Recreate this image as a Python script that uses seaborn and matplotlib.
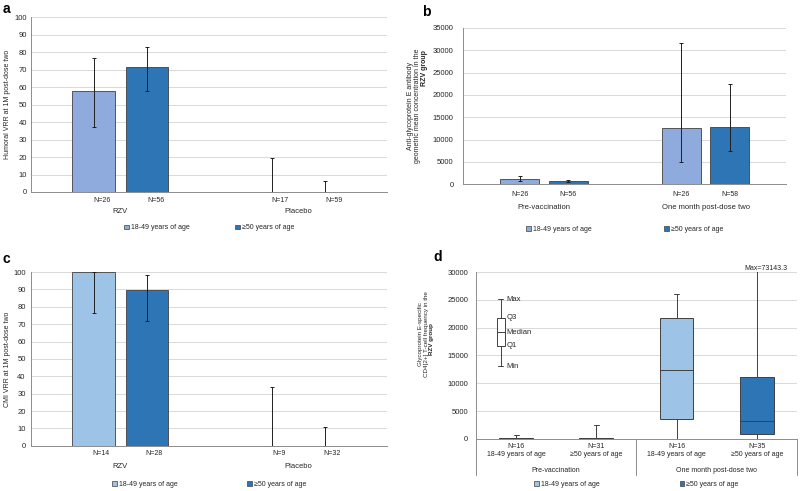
import numpy as np
import pandas as pd
import matplotlib
matplotlib.use('Agg')
import matplotlib.pyplot as plt
from matplotlib.patches import Patch
import seaborn as sns


# ── Data ──────────────────────────────────────────────────────────────────────

age_groups = ['18-49 years of age', '≥50 years of age']

# a: humoral VRR at 1M post-dose two (%)
a_groups   = ['RZV', 'Placebo']
a_young    = [57.7, 0.0]
a_young_lo = [36.9, 0.0]
a_young_hi = [76.9, 19.7]
a_young_n  = [26, 17]
a_old      = [71.3, 0.0]
a_old_lo   = [57.9, 0.0]
a_old_hi   = [82.8, 6.1]
a_old_n    = [56, 59]

# b: anti-gE antibody GMC, RZV group
b_groups   = ['Pre-vaccination', 'One month post-dose two']
b_young    = [1050, 12585]
b_young_lo = [600, 4915]
b_young_hi = [1870, 31650]
b_young_n  = [26, 26]
b_old      = [670, 12880]
b_old_lo   = [470, 7370]
b_old_hi   = [960, 22415]
b_old_n    = [56, 58]

# c: CMI VRR at 1M post-dose two (%)
c_groups   = ['RZV', 'Placebo']
c_young    = [100.0, 0.0]
c_young_lo = [76.5, 0.0]
c_young_hi = [100.0, 33.6]
c_young_n  = [14, 9]
c_old      = [89.5, 0.0]
c_old_lo   = [71.9, 0.0]
c_old_hi   = [98.1, 10.7]
c_old_n    = [28, 32]

# d: gE-specific CD4[2+] T-cell frequency, five-number summaries
d_time = ['Pre-vaccination', 'Pre-vaccination',
          'One month post-dose two', 'One month post-dose two']
d_age  = [age_groups[0], age_groups[1], age_groups[0], age_groups[1]]
d_n    = [16, 31, 16, 35]
d_min  = [0, 0, 0, 0]
d_q1   = [60, 60, 3590, 960]
d_med  = [120, 120, 12400, 3230]
d_q3   = [250, 250, 21790, 11080]
d_max  = [720, 2460, 26100, 73143.3]

# d: key box
key_names  = ['Max', 'Q3', 'Median', 'Q1', 'Min']
key_values = [25150, 21800, 19170, 16760, 13100]

light_ab = '#8FAADC'
light_cd = '#9DC3E6'
dark     = '#2E75B6'
edge     = '#404040'
spine_c  = '#8C8C8C'
grid_c   = '#D9D9D9'
text_c   = '#262626'
FS = 5


# ── Style ─────────────────────────────────────────────────────────────────────

sns.set_style('white')
plt.rcParams['font.family'] = ['Liberation Sans', 'DejaVu Sans']
plt.rcParams['text.color'] = text_c
plt.rcParams['axes.labelcolor'] = text_c


def style_axes(ax, ymax, ystep, ypad):
    ax.set_ylim(0, ymax)
    ax.set_yticks(np.arange(0, ymax + 1, ystep))
    ax.yaxis.grid(True, color=grid_c, lw=0.7)
    ax.xaxis.grid(False)
    ax.set_axisbelow(True)
    for s in ['top', 'right']:
        ax.spines[s].set_visible(False)
    for s in ['left', 'bottom']:
        ax.spines[s].set_color(spine_c)
        ax.spines[s].set_linewidth(0.7)
    ax.tick_params(axis='y', labelsize=FS + 0.5, length=2, width=0.6,
                   color=spine_c, pad=ypad, labelcolor=text_c)
    ax.set_xlabel('')


def add_legend(ax, colors, y, spacing):
    handles = [Patch(facecolor=c, edgecolor=edge, lw=0.5) for c in colors]
    ax.legend(handles, age_groups, loc='center', bbox_to_anchor=(0.5, y),
              ncol=2, frameon=False, fontsize=FS, handlelength=0.7,
              handleheight=0.7, handletextpad=0.3, columnspacing=spacing)


def rotated_lines(ax, lines, xs, y, bold_x, bold_top, size=FS):
    for line, x in zip(lines, xs):
        ax.text(x, y, line, transform=ax.transAxes, rotation=90,
                ha='center', va='center', fontsize=size)
    ax.text(bold_x, bold_top, 'RZV group', transform=ax.transAxes, rotation=90,
            ha='center', va='top', fontsize=size, weight='bold')


def bar_panel(ax, groups, young, young_lo, young_hi, young_n,
              old, old_lo, old_hi, old_n, colors, ymax, ystep, ypad,
              n_y, cat_y, leg_y, leg_space, n_shift=0.0):
    k = len(groups)
    df = pd.DataFrame({
        'group': groups * 2,
        'age':   [age_groups[0]] * k + [age_groups[1]] * k,
        'value': young + old,
        'lo':    young_lo + old_lo,
        'hi':    young_hi + old_hi,
        'n':     young_n + old_n,
    })
    sns.barplot(data=df, x='group', y='value', hue='age', order=groups,
                hue_order=age_groups, palette=colors, width=0.6, gap=0.2,
                saturation=1, errorbar=None, edgecolor=edge, linewidth=0.6,
                legend=False, ax=ax)

    for cont, age in zip(ax.containers, age_groups):
        sub = df[df['age'] == age]
        xs = np.array([b.get_x() + b.get_width() / 2 for b in cont])
        vals = sub['value'].to_numpy()
        yerr = [vals - sub['lo'].to_numpy(), sub['hi'].to_numpy() - vals]
        ax.errorbar(xs, vals, yerr=yerr, fmt='none', ecolor='#1F1F1F',
                    elinewidth=0.7, capsize=1.3, capthick=0.7)
        for x, n in zip(xs, sub['n']):
            ax.text(x + n_shift, n_y, f'N={n}', transform=ax.get_xaxis_transform(),
                    ha='center', va='center', fontsize=FS)

    for i, g in enumerate(groups):
        ax.text(i, cat_y, g, transform=ax.get_xaxis_transform(),
                ha='center', va='center', fontsize=FS + 0.5)

    style_axes(ax, ymax, ystep, ypad)
    ax.set_xlim(-0.5, k - 0.5)
    ax.set_xticks(np.arange(-0.5, k, 1.0))
    ax.set_xticklabels([])
    ax.tick_params(axis='x', length=2, width=0.6, color=spine_c)
    ax.set_ylabel('')
    add_legend(ax, colors, leg_y, leg_space)


# ── Figure ────────────────────────────────────────────────────────────────────

fig = plt.figure(figsize=(8, 4.91), dpi=100)
ax_a = fig.add_axes([0.039, 0.609, 0.445, 0.356])
ax_b = fig.add_axes([0.579, 0.625, 0.404, 0.318])
ax_c = fig.add_axes([0.039, 0.092, 0.445, 0.354])
ax_d = fig.add_axes([0.595, 0.106, 0.401, 0.340])

# a
bar_panel(ax_a, a_groups, a_young, a_young_lo, a_young_hi, a_young_n,
          a_old, a_old_lo, a_old_hi, a_old_n, [light_ab, dark],
          100, 10, 1, -0.046, -0.114, -0.206, 6.5, n_shift=0.05)
ax_a.set_ylabel('Humoral VRR at 1M post-dose two', fontsize=FS)
ax_a.yaxis.set_label_coords(-0.058, 0.5)

# b
bar_panel(ax_b, b_groups, b_young, b_young_lo, b_young_hi, b_young_n,
          b_old, b_old_lo, b_old_hi, b_old_n, [light_ab, dark],
          35000, 5000, 5, -0.064, -0.147, -0.289, 10.4)
rotated_lines(ax_b, ['Anti-glycoprotein E antibody',
                     'geometric mean concentration in the'],
              [-0.164, -0.142], 0.5, -0.121, 0.859)

# c
bar_panel(ax_c, c_groups, c_young, c_young_lo, c_young_hi, c_young_n,
          c_old, c_old_lo, c_old_hi, c_old_n, [light_cd, dark],
          100, 10, 2, -0.046, -0.121, -0.224, 10, n_shift=0.04)
ax_c.set_ylabel('CMI VRR at 1M post-dose two', fontsize=FS)
ax_c.yaxis.set_label_coords(-0.058, 0.5)

# d
d_slots = [f'{t}|{age}' for t, age in zip(d_time, d_age)]
d_ticklabels = [f'N={n}\n{age}' for n, age in zip(d_n, d_age)]
d_rows = []
for slot, age, lo, q1, med, q3, hi in zip(d_slots, d_age, d_min, d_q1,
                                          d_med, d_q3, d_max):
    for v in (lo, q1, med, q3, hi):
        d_rows.append({'slot': slot, 'age': age, 'value': v})
d_df = pd.DataFrame(d_rows)

sns.boxplot(data=d_df, x='slot', y='value', hue='age', order=d_slots,
            hue_order=age_groups, palette=[light_cd, dark], dodge=False,
            saturation=1, whis=np.inf, width=0.42, linecolor=edge,
            linewidth=0.7, legend=False, ax=ax_d, capwidths=0.06)

ax_d.bxp([dict(whislo=key_values[4], q1=key_values[3], med=key_values[2],
               q3=key_values[1], whishi=key_values[0], fliers=[])],
         positions=[-0.19], widths=[0.1], capwidths=[0.06], patch_artist=True,
         boxprops=dict(facecolor='white', edgecolor=edge, lw=0.7),
         medianprops=dict(color=edge, lw=0.7),
         whiskerprops=dict(color=edge, lw=0.7),
         capprops=dict(color=edge, lw=0.7), manage_ticks=False)
for name, v in zip(key_names, key_values):
    ax_d.text(-0.12, v, name, ha='left', va='center', fontsize=FS + 0.5)

style_axes(ax_d, 30000, 5000, 3.5)
ax_d.set_xlim(-0.5, len(d_slots) - 0.5)
ax_d.set_xticks(range(len(d_slots)))
ax_d.set_xticklabels(d_ticklabels, fontsize=FS, linespacing=1.1)
ax_d.tick_params(axis='x', length=0, pad=3, labelcolor=text_c)
ax_d.set_ylabel('')

times = list(dict.fromkeys(d_time))
for t in times:
    idx = [i for i, v in enumerate(d_time) if v == t]
    ax_d.text(np.mean(idx), -0.186, t, transform=ax_d.get_xaxis_transform(),
              ha='center', va='center', fontsize=FS)
for xb in [-0.5, len(d_slots) / 2 - 0.5, len(d_slots) - 0.5]:
    ax_d.plot([xb, xb], [0, -0.216], transform=ax_d.get_xaxis_transform(),
              color=spine_c, lw=0.7, clip_on=False)

ax_d.text(3.12, 30000, f'Max={d_max[3]}', ha='center', va='bottom', fontsize=FS)
rotated_lines(ax_d, ['Glycoprotein E-specific', 'CD4[2+] T-cell frequency in the'],
              [-0.172, -0.155], 0.63, -0.138, 0.695, size=4.5)
add_legend(ax_d, [light_cd, dark], -0.27, 11.5)

# panel letters
for letter, x, y in [('a', 0.003, 0.995), ('b', 0.527, 0.99),
                     ('c', 0.003, 0.487), ('d', 0.542, 0.49)]:
    fig.text(x, y, letter, fontsize=10, weight='bold', va='top', color='black')

fig.savefig('out.png', dpi=100)
